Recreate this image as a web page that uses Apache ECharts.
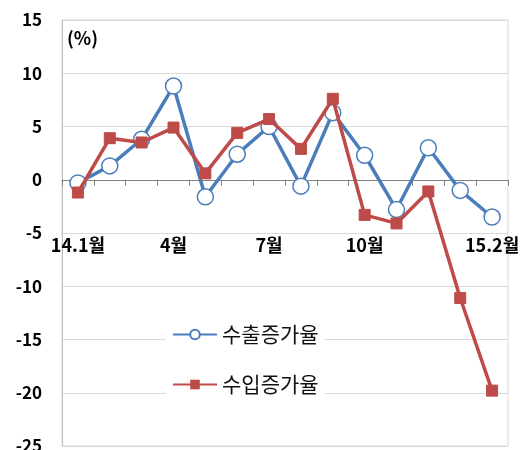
<!DOCTYPE html>
<html><head><meta charset="utf-8">
<script src="https://cdn.jsdelivr.net/npm/echarts@6/dist/echarts.min.js"></script>
<style>html,body{margin:0;padding:0;background:#fff}#c{width:523px;height:450px}</style>
</head><body><div id="c"></div>
<script>
const categories = ['14.1월','2월','3월','4월','5월','6월','7월','8월','9월','10월','11월','12월','15.1월','15.2월'];
const labelIdx = [0,3,6,9,13];
const exportRate = [-0.3, 1.3, 3.8, 8.8, -1.6, 2.4, 5.0, -0.6, 6.3, 2.3, -2.8, 3.0, -1.0, -3.5];
const importRate = [-1.2, 3.9, 3.5, 4.9, 0.6, 4.4, 5.7, 2.9, 7.6, -3.3, -4.1, -1.1, -11.1, -19.8];
const yTicks = {min: -25, max: 15, interval: 5};
const FONT = '"Noto Sans CJK KR", "Liberation Sans", sans-serif';
const chart = echarts.init(document.getElementById('c'));
chart.setOption({
  animation: false,
  backgroundColor: '#fff',
  textStyle: {fontFamily: FONT},
  grid: {left: 62, right: 15, top: 20, bottom: 4, show: true, borderColor: '#d9d9d9', borderWidth: 1, containLabel: false, outerBoundsMode: 'none'},
  graphic: [{type: 'text', left: 67, top: 29, style: {text: '(%)', font: 'bold 18px ' + FONT, fill: '#000'}}],
  legend: {
    orient: 'vertical', left: 166, top: 320, itemGap: 29, itemWidth: 44, itemHeight: 12,
    backgroundColor: '#fff', padding: [4, 6],
    textStyle: {fontSize: 21, color: '#111', fontFamily: FONT},
    data: ['수출증가율', '수입증가율']
  },
  xAxis: {
    type: 'category', data: categories, boundaryGap: true,
    axisLine: {onZero: true, lineStyle: {color: '#808080', width: 1}},
    axisTick: {show: true, interval: 0, length: 6, lineStyle: {color: '#808080'}},
    axisLabel: {interval: (i) => labelIdx.includes(i), margin: -210, fontSize: 18, fontWeight: 'bold', color: '#000', fontFamily: FONT},
    splitLine: {show: false}
  },
  yAxis: {
    type: 'value', min: yTicks.min, max: yTicks.max, interval: yTicks.interval,
    axisLine: {show: true, lineStyle: {color: '#bfbfbf'}},
    axisTick: {show: false},
    axisLabel: {margin: 20, fontSize: 17, fontWeight: 'bold', color: '#000', fontFamily: FONT},
    splitLine: {lineStyle: {color: '#d9d9d9'}}
  },
  series: [
    {name: '수출증가율', type: 'line', data: exportRate, symbol: 'circle', symbolSize: 16,
     lineStyle: {color: '#4a7ebb', width: 3.5}, itemStyle: {color: '#fff', borderColor: '#4a7ebb', borderWidth: 1.5}, z: 2},
    {name: '수입증가율', type: 'line', data: importRate, symbol: 'rect', symbolSize: 11,
     lineStyle: {color: '#be4b48', width: 3.5}, itemStyle: {color: '#be4b48', borderColor: '#be4b48'}, z: 3}
  ]
});
</script></body></html>
